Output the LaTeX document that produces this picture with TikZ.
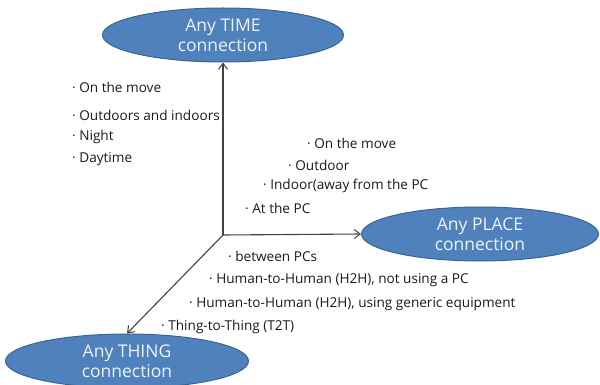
\documentclass[tikz,border=0pt]{standalone}
\usepackage{fontspec}
\setmainfont{Open Sans}
\usetikzlibrary{arrows.meta,shapes.geometric}
\definecolor{ellfill}{HTML}{4F81BD}
\definecolor{elldraw}{HTML}{3B6590}
\definecolor{axis}{HTML}{4A3F3C}
\definecolor{itemtext}{HTML}{1A1A1A}
\definecolor{goalink}{HTML}{EEF3FA}
\tikzset{
  x=1pt, y=-1pt,
  goal/.style={ellipse, fill=ellfill, draw=elldraw, line width=1pt,
    minimum width=#1, minimum height=54pt, inner sep=0pt},
  goaltext/.style={text=goalink, font=\fontsize{17.5}{20}\selectfont, align=center},
  item/.style={anchor=west, inner sep=0pt, text=itemtext,
    font=\fontsize{13.6}{15}\selectfont},
  axisline/.style={draw=axis, line width=1.1pt,
    -{Straight Barb[length=6pt,width=9pt,line width=1pt]}},
}
\begin{document}
\begin{tikzpicture}
\useasboundingbox (0,0) rectangle (600,385);

% the three goals
\node[goal=241pt] (time)  at (223,35)  {};
\node[goaltext]           at (time)    {Any TIME\\connection};
\node[goal=237pt] (place) at (480,234) {};
\node[goaltext]           at (place)   {Any PLACE\\connection};
\node[goal=243pt] (thing) at (127,361) {};
\node[goaltext]           at (thing)   {Any THING\\connection};

% axes from the common origin
\coordinate (o) at (223,235);
\draw[axisline] (o) -- (time.south);
\draw[axisline] (o) -- (place.west);
\draw[axisline] (o) -- (thing.north);

% time
\node[item] (t1) at (72,87)  {· On the move};
\node[item] (t2) at (72,115) {· Outdoors and indoors};
\node[item] (t3) at (72,137) {· Night};
\node[item] (t4) at (72,159) {· Daytime};

% place
\node[item] (p1) at (307,143) {· On the move};
\node[item] (p2) at (288,165) {· Outdoor};
\node[item] (p3) at (263,186) {· Indoor(away from the PC};
\node[item] (p4) at (245,208) {· At the PC};

% thing
\node[item] (h1) at (228,256) {· between PCs};
\node[item] (h2) at (209,280) {· Human-to-Human (H2H), not using a PC};
\node[item] (h3) at (189,304) {· Human-to-Human (H2H), using generic equipment};
\node[item] (h4) at (161,327) {· Thing-to-Thing (T2T)};
\end{tikzpicture}
\end{document}
